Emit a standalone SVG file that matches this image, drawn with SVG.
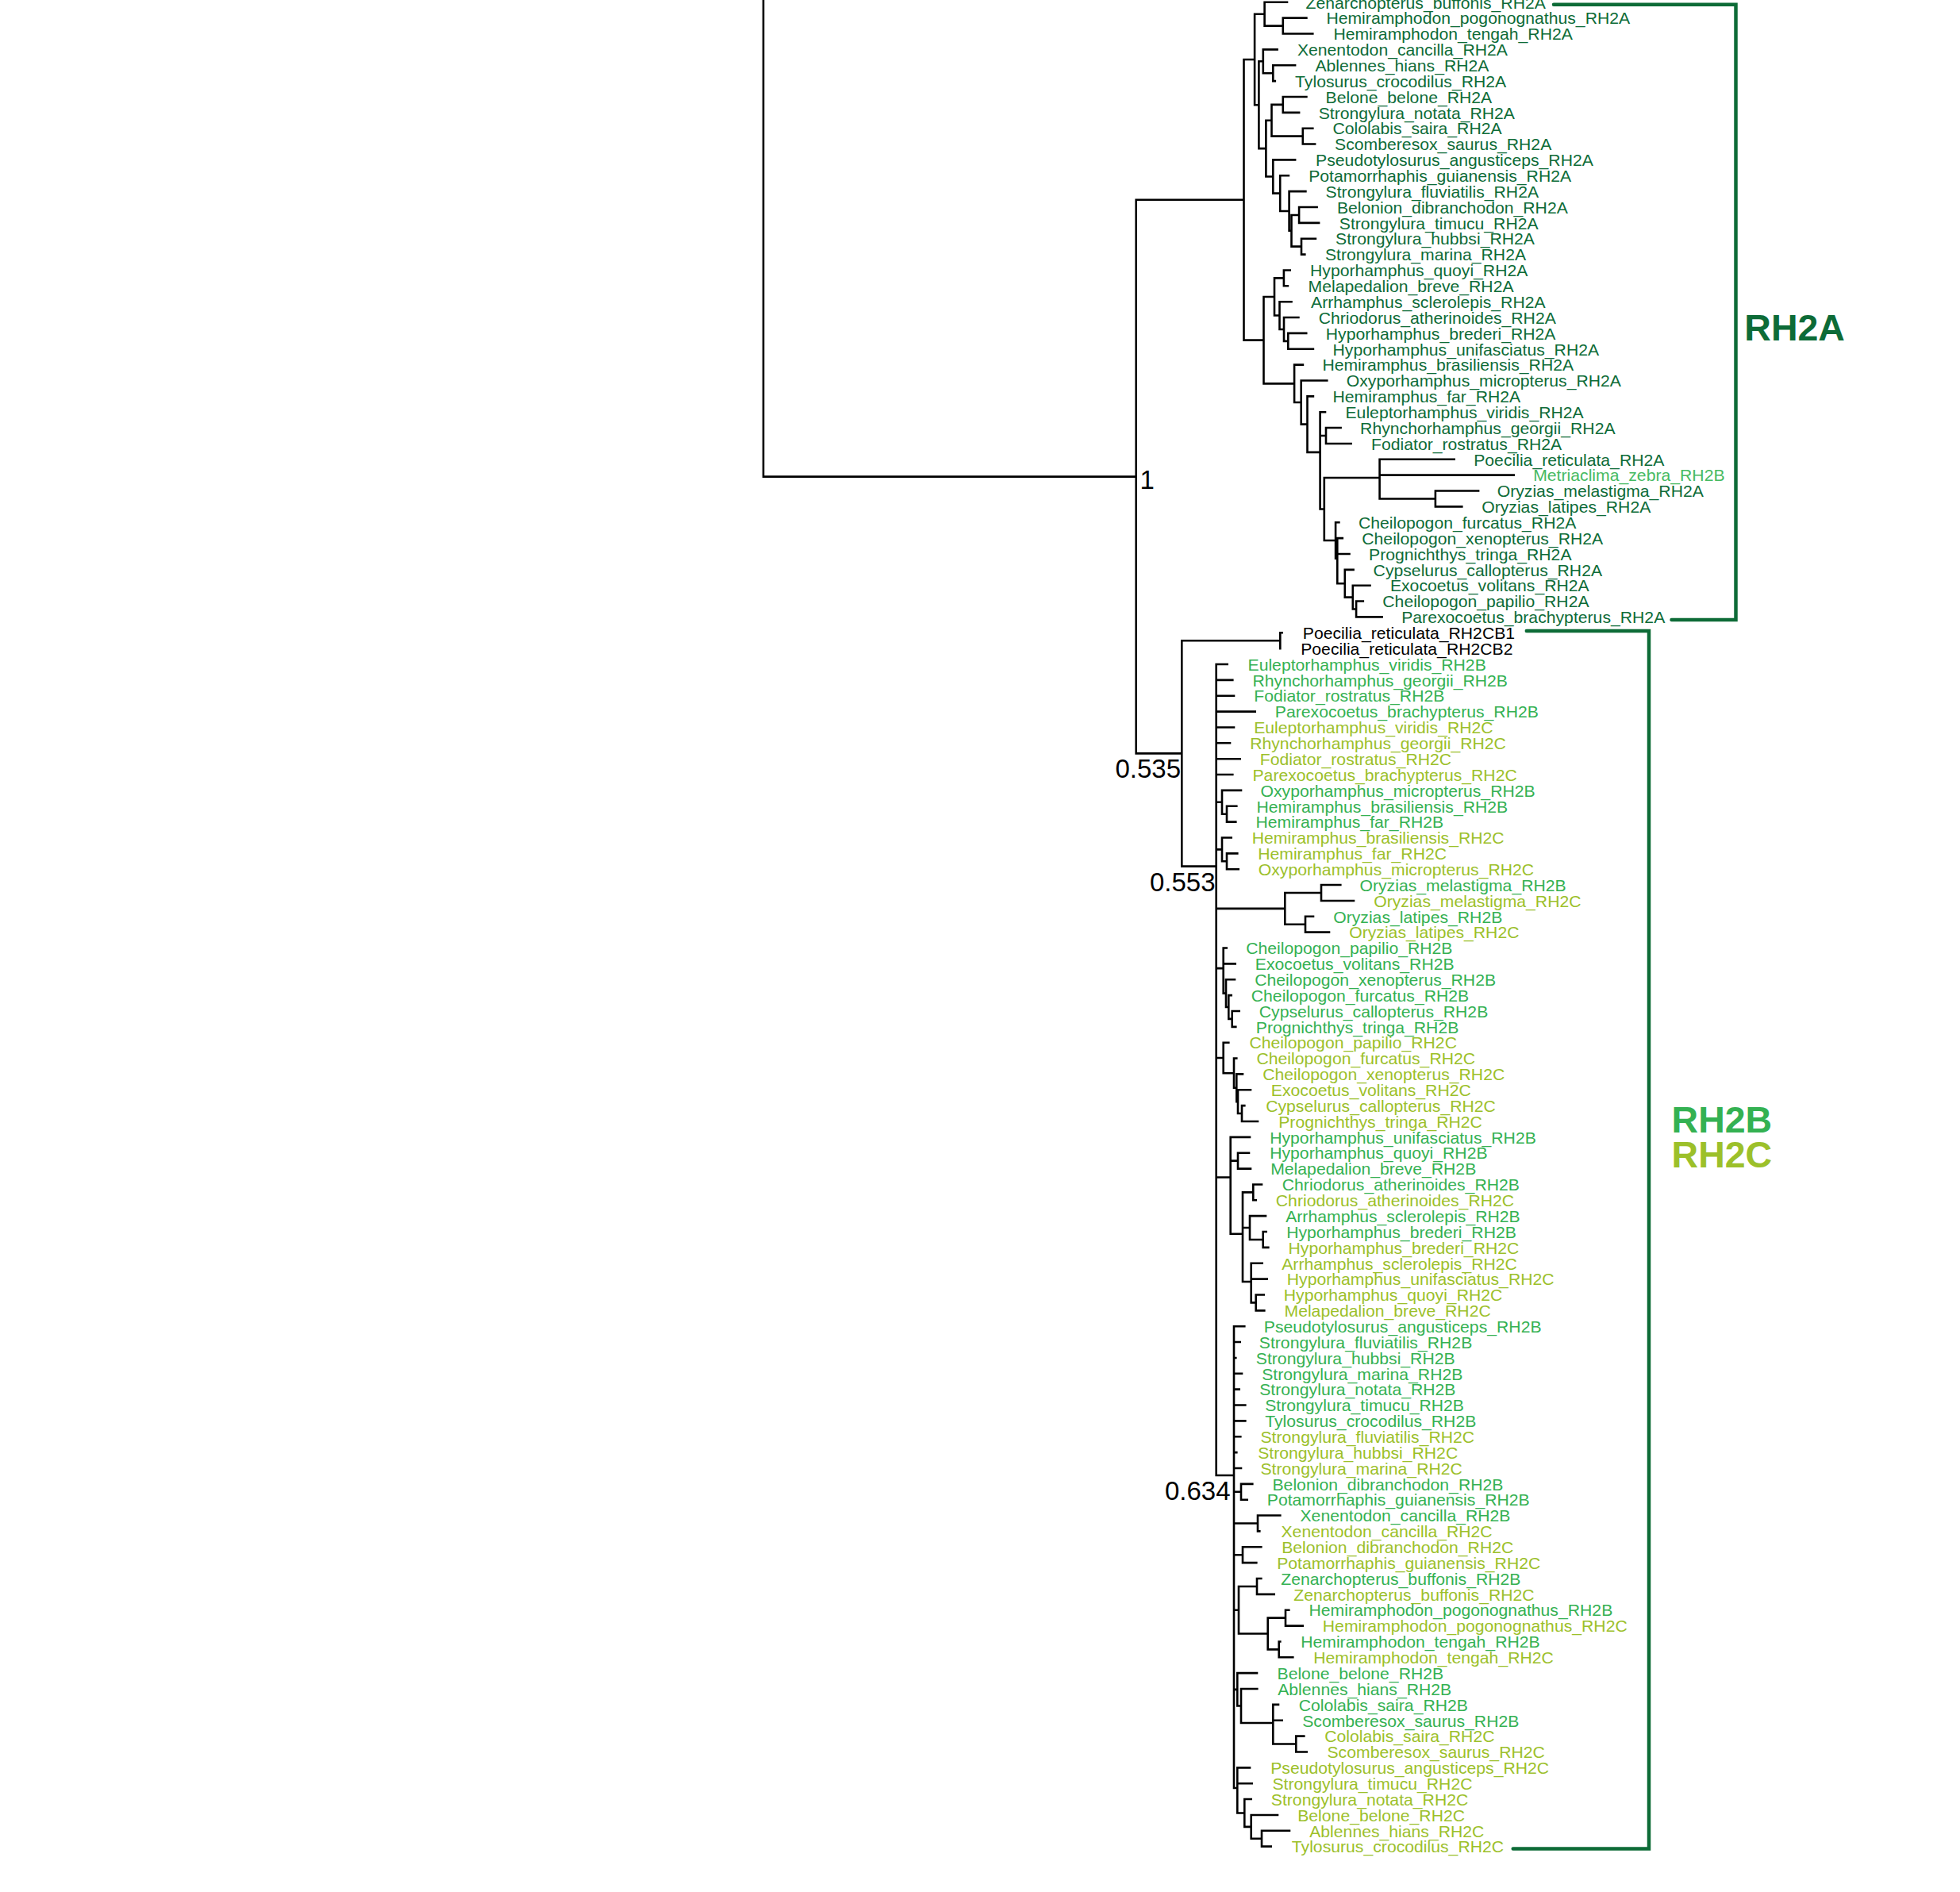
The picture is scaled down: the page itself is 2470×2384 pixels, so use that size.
<svg xmlns="http://www.w3.org/2000/svg" width="2470" height="2384" viewBox="0 0 2470 2384">
<style>
.t{font-family:"Liberation Sans",Arial,sans-serif;font-size:20px;transform-box:fill-box;transform-origin:0 0;transform:scaleX(1.06)}
.a{fill:#0D6B37}.b{fill:#34B152}.c{fill:#9CC02A}.m{fill:#46BA62}.k{fill:#000}
.tree{fill:none;stroke:#000;stroke-width:2.6;stroke-linecap:square}
.br{fill:none;stroke:#0D6B37;stroke-width:4.5;stroke-linecap:round}
.nl{font-family:"Liberation Sans",Arial,sans-serif;font-size:33px;fill:#000}
.big{font-family:"Liberation Sans",Arial,sans-serif;font-size:46.5px;font-weight:bold}
</style>
<rect width="2470" height="2384" fill="#fff"/>
<g id="connectors">
<path class="tree" d="M962 -5 V600.6 H1431.7
M1567.5 251.81 H1431.7 V949.4 H1489.3
M1581.1 74.96 H1567.5 V428.66 H1592.5
M1593.6 17.7 H1581.1 V132.22 H1586.4
M1622 2.8 H1593.6 V32.59 H1616.8
M1646.4 22.66 H1616.8 V42.52 H1654.3
M1591.8 77.29 H1586.4 V187.15 H1595.4
M1609.6 62.39 H1591.8 V92.18 H1604.3
M1632.1 82.25 H1604.3 V102.11 H1606.8
M1602.5 151.77 H1595.4 V222.52 H1604.3
M1616.8 131.9 H1602.5 V171.63 H1641.8
M1646.4 121.97 H1616.8 V141.83 H1637.1
M1654.3 161.7 H1641.8 V181.56 H1657.1
M1632.1 201.42 H1604.3 V243.63 H1613.2
M1623.9 221.28 H1613.2 V265.97 H1624.6
M1645.4 241.14 H1624.6 V290.8 H1627.5
M1637.1 270.94 H1627.5 V310.66 H1640
M1659.6 261.01 H1637.1 V280.87 H1662.1
M1657.9 300.73 H1640 V320.59 H1644.3
M1606 373.98 H1592.5 V483.35 H1631.1
M1617.9 350.39 H1606 V397.56 H1612.5
M1625.7 340.45 H1617.9 V360.32 H1622.9
M1627.5 380.18 H1612.5 V414.94 H1618
M1636.4 400.04 H1618 V429.83 H1623.3
M1646.2 419.9 H1623.3 V439.76 H1654.9
M1641.9 459.63 H1631.1 V507.06 H1639.7
M1672.3 479.49 H1639.7 V534.63 H1647.5
M1654.9 499.35 H1647.5 V569.9 H1663.6
M1670 519.21 H1663.6 V641.49 H1668.8 M1663.6 549.01 H1671
M1689.6 539.07 H1671 V558.94 H1702.6
M1738.6 601.97 H1668.8 V681 H1683.1
M1832.7 578.8 H1738.6 V628.45 H1808.9 M1738.6 598.66 H1907.7
M1863.1 618.52 H1808.9 V638.38 H1842.3
M1687.4 658.25 H1683.1 V703.76 H1685.3
M1691.8 678.11 H1685.3 V735.21 H1694.8 M1685.3 697.97 H1700.5
M1705.6 717.83 H1694.8 V752.59 H1704.8
M1726.5 737.69 H1704.8 V767.49 H1709.1
M1717.8 757.56 H1709.1 V777.42 H1741.6
M1613.3 807.21 H1489.3 V1091.58 H1532.7
M1615.7 797.28 H1613.3 V817.14
M1546.7 837 H1532.7 V1859 H1555
M1532.7 856.87 H1553.3 M1532.7 876.73 H1555 M1532.7 896.59 H1581.7 M1532.7 916.45 H1555
M1532.7 936.31 H1550 M1532.7 956.18 H1562.7 M1532.7 976.04 H1553.3
M1532.7 1010.8 H1540 M1532.7 1070.39 H1540 M1532.7 1144.87 H1619.3
M1532.7 1220.17 H1541.7 M1532.7 1332.93 H1541.7 M1532.7 1483.44 H1550.7
M1564 995.9 H1540 V1025.69 H1546
M1558.3 1015.76 H1546 V1035.62 H1557.3
M1551.7 1055.49 H1540 V1085.28 H1546
M1559.3 1075.35 H1546 V1095.21 H1560.7
M1665 1125 H1619.3 V1164.73 H1645
M1689.3 1115.07 H1665 V1134.93 H1706
M1655 1154.8 H1645 V1174.66 H1675
M1545.7 1194.52 H1541.7 V1251.62 H1545 M1541.7 1214.38 H1556.7
M1556 1234.24 H1545 V1269 H1548.3
M1551.7 1254.11 H1548.3 V1283.9 H1552.7
M1561.7 1273.97 H1552.7 V1293.83 H1557.3
M1548.3 1313.69 H1541.7 V1352.18 H1555
M1558.3 1333.55 H1555 V1370.8 H1558.3
M1566 1353.42 H1558.3 V1388.18 H1560
M1576 1373.28 H1560 V1403.07 H1565
M1568.3 1393.14 H1565 V1413 H1585
M1575 1432.86 H1550.7 V1554.79 H1566 M1550.7 1462.66 H1560
M1574 1452.73 H1560 V1472.59 H1576
M1579.3 1502.38 H1566 V1614.93 H1576.7 M1566 1547.07 H1575
M1590 1492.45 H1579.3 V1512.31 H1582.7
M1595 1532.17 H1575 V1561.97 H1591.7
M1595.7 1552.04 H1591.7 V1571.9 H1598.3
M1590.7 1591.76 H1576.7 V1641.42 H1582.7 M1576.7 1611.62 H1596.7
M1592.7 1631.48 H1582.7 V1651.35 H1593.3
M1568.3 1671.21 H1555 V2253 H1559.3
M1555 1691.07 H1562.7 M1555 1710.93 H1557.3 M1555 1730.79 H1565 M1555 1750.66 H1561.7
M1555 1770.52 H1569.3 M1555 1790.38 H1569.3 M1555 1810.24 H1563.3 M1555 1830.1 H1558.3
M1555 1849.97 H1564 M1555 1879.76 H1564 M1555 1919.48 H1585 M1555 1959.21 H1566
M1555 2028.73 H1561 M1555 2128.86 H1559.3
M1578.3 1869.83 H1564 V1889.69 H1571.7
M1613.3 1909.55 H1585 V1929.41 H1587.3
M1589.3 1949.28 H1566 V1969.14 H1583.3
M1584 1998.93 H1561 V2058.52 H1597.7
M1589.3 1989 H1584 V2008.86 H1605.7
M1620 2038.66 H1597.7 V2078.38 H1611.7
M1624.3 2028.72 H1620 V2048.59 H1641.7
M1613.3 2068.45 H1611.7 V2088.31 H1629.3
M1584 2108.17 H1559.3 V2149.55 H1564
M1584.3 2128.03 H1564 V2171.07 H1604.3
M1611 2147.9 H1604.3 V2197.55 H1633.3 M1604.3 2167.76 H1615.7
M1643.3 2187.62 H1633.3 V2207.48 H1646.7
M1575 2227.34 H1559.3 V2284.45 H1568.3 M1559.3 2247.21 H1577.7
M1576.7 2267.07 H1568.3 V2301.83 H1576.7
M1610 2286.93 H1576.7 V2316.72 H1590
M1625 2306.79 H1590 V2326.65 H1601.7"/>
<path id="bracket-RH2A" class="br" d="M1958 5.7 H2187.5 V781 H2106.5"/>
<path id="bracket-RH2BC" class="br" d="M1923.8 795 H2078 V2329.5 H1906.7"/>
</g>
<g id="support-labels">
<text class="nl" x="1436.5" y="616">1</text>
<text class="nl" x="1488" y="980" text-anchor="end">0.535</text>
<text class="nl" x="1531.5" y="1123" text-anchor="end">0.553</text>
<text class="nl" x="1550.5" y="1890" text-anchor="end">0.634</text>
</g>
<g id="clade-labels">
<text id="lbl-RH2A" class="big" x="2198.3" y="428.5" fill="#0D6B37">RH2A</text>
<text id="lbl-RH2B" class="big" x="2106.6" y="1426.5" fill="#34B152">RH2B</text>
<text id="lbl-RH2C" class="big" x="2106.6" y="1471" fill="#9CC02A">RH2C</text>
</g>
<g id="leaves">
<g id="leaf1"><text class="t a" x="1645.6" y="10.6">Zenarchopterus_buffonis_RH2A</text></g>
<g id="leaf2"><text class="t a" x="1671.4" y="30.5">Hemiramphodon_pogonognathus_RH2A</text></g>
<g id="leaf3"><text class="t a" x="1680.4" y="50.3">Hemiramphodon_tengah_RH2A</text></g>
<g id="leaf4"><text class="t a" x="1634.9" y="70.2">Xenentodon_cancilla_RH2A</text></g>
<g id="leaf5"><text class="t a" x="1657.4" y="90.1">Ablennes_hians_RH2A</text></g>
<g id="leaf6"><text class="t a" x="1632.1" y="109.9">Tylosurus_crocodilus_RH2A</text></g>
<g id="leaf7"><text class="t a" x="1670.6" y="129.8">Belone_belone_RH2A</text></g>
<g id="leaf8"><text class="t a" x="1661.7" y="149.6">Strongylura_notata_RH2A</text></g>
<g id="leaf9"><text class="t a" x="1679.5" y="169.5">Cololabis_saira_RH2A</text></g>
<g id="leaf10"><text class="t a" x="1682.1" y="189.4">Scomberesox_saurus_RH2A</text></g>
<g id="leaf11"><text class="t a" x="1658.1" y="209.2">Pseudotylosurus_angusticeps_RH2A</text></g>
<g id="leaf12"><text class="t a" x="1649.2" y="229.1">Potamorrhaphis_guianensis_RH2A</text></g>
<g id="leaf13"><text class="t a" x="1670.6" y="248.9">Strongylura_fluviatilis_RH2A</text></g>
<g id="leaf14"><text class="t a" x="1684.9" y="268.8">Belonion_dibranchodon_RH2A</text></g>
<g id="leaf15"><text class="t a" x="1687.8" y="288.7">Strongylura_timucu_RH2A</text></g>
<g id="leaf16"><text class="t a" x="1683.1" y="308.5">Strongylura_hubbsi_RH2A</text></g>
<g id="leaf17"><text class="t a" x="1669.9" y="328.4">Strongylura_marina_RH2A</text></g>
<g id="leaf18"><text class="t a" x="1651" y="348.3">Hyporhamphus_quoyi_RH2A</text></g>
<g id="leaf19"><text class="t a" x="1648.5" y="368.1">Melapedalion_breve_RH2A</text></g>
<g id="leaf20"><text class="t a" x="1652.1" y="388">Arrhamphus_sclerolepis_RH2A</text></g>
<g id="leaf21"><text class="t a" x="1661.7" y="407.8">Chriodorus_atherinoides_RH2A</text></g>
<g id="leaf22"><text class="t a" x="1670.8" y="427.7">Hyporhamphus_brederi_RH2A</text></g>
<g id="leaf23"><text class="t a" x="1679.5" y="447.6">Hyporhamphus_unifasciatus_RH2A</text></g>
<g id="leaf24"><text class="t a" x="1666.4" y="467.4">Hemiramphus_brasiliensis_RH2A</text></g>
<g id="leaf25"><text class="t a" x="1696.8" y="487.3">Oxyporhamphus_micropterus_RH2A</text></g>
<g id="leaf26"><text class="t a" x="1679.5" y="507.2">Hemiramphus_far_RH2A</text></g>
<g id="leaf27"><text class="t a" x="1695.5" y="527">Euleptorhamphus_viridis_RH2A</text></g>
<g id="leaf28"><text class="t a" x="1714.1" y="546.9">Rhynchorhamphus_georgii_RH2A</text></g>
<g id="leaf29"><text class="t a" x="1728" y="566.7">Fodiator_rostratus_RH2A</text></g>
<g id="leaf30"><text class="t a" x="1857.2" y="586.6">Poecilia_reticulata_RH2A</text></g>
<g id="leaf31"><text class="t m" x="1932.2" y="606.5">Metriaclima_zebra_RH2B</text></g>
<g id="leaf32"><text class="t a" x="1886.7" y="626.3">Oryzias_melastigma_RH2A</text></g>
<g id="leaf33"><text class="t a" x="1867.2" y="646.2">Oryzias_latipes_RH2A</text></g>
<g id="leaf34"><text class="t a" x="1712" y="666">Cheilopogon_furcatus_RH2A</text></g>
<g id="leaf35"><text class="t a" x="1716.3" y="685.9">Cheilopogon_xenopterus_RH2A</text></g>
<g id="leaf36"><text class="t a" x="1725" y="705.8">Prognichthys_tringa_RH2A</text></g>
<g id="leaf37"><text class="t a" x="1730.6" y="725.6">Cypselurus_callopterus_RH2A</text></g>
<g id="leaf38"><text class="t a" x="1751.9" y="745.5">Exocoetus_volitans_RH2A</text></g>
<g id="leaf39"><text class="t a" x="1742.3" y="765.4">Cheilopogon_papilio_RH2A</text></g>
<g id="leaf40"><text class="t a" x="1766.2" y="785.2">Parexocoetus_brachypterus_RH2A</text></g>
<g id="leaf41"><text class="t k" x="1641.8" y="805.1">Poecilia_reticulata_RH2CB1</text></g>
<g id="leaf42"><text class="t k" x="1639.2" y="824.9">Poecilia_reticulata_RH2CB2</text></g>
<g id="leaf43"><text class="t b" x="1572.5" y="844.8">Euleptorhamphus_viridis_RH2B</text></g>
<g id="leaf44"><text class="t b" x="1578.5" y="864.7">Rhynchorhamphus_georgii_RH2B</text></g>
<g id="leaf45"><text class="t b" x="1580.2" y="884.5">Fodiator_rostratus_RH2B</text></g>
<g id="leaf46"><text class="t b" x="1606.8" y="904.4">Parexocoetus_brachypterus_RH2B</text></g>
<g id="leaf47"><text class="t c" x="1580.2" y="924.3">Euleptorhamphus_viridis_RH2C</text></g>
<g id="leaf48"><text class="t c" x="1575.2" y="944.1">Rhynchorhamphus_georgii_RH2C</text></g>
<g id="leaf49"><text class="t c" x="1587.8" y="964">Fodiator_rostratus_RH2C</text></g>
<g id="leaf50"><text class="t c" x="1578.5" y="983.8">Parexocoetus_brachypterus_RH2C</text></g>
<g id="leaf51"><text class="t b" x="1588.5" y="1003.7">Oxyporhamphus_micropterus_RH2B</text></g>
<g id="leaf52"><text class="t b" x="1583.5" y="1023.6">Hemiramphus_brasiliensis_RH2B</text></g>
<g id="leaf53"><text class="t b" x="1582.5" y="1043.4">Hemiramphus_far_RH2B</text></g>
<g id="leaf54"><text class="t c" x="1577.8" y="1063.3">Hemiramphus_brasiliensis_RH2C</text></g>
<g id="leaf55"><text class="t c" x="1585.2" y="1083.2">Hemiramphus_far_RH2C</text></g>
<g id="leaf56"><text class="t c" x="1585.8" y="1103">Oxyporhamphus_micropterus_RH2C</text></g>
<g id="leaf57"><text class="t b" x="1713.5" y="1122.9">Oryzias_melastigma_RH2B</text></g>
<g id="leaf58"><text class="t c" x="1731.2" y="1142.7">Oryzias_melastigma_RH2C</text></g>
<g id="leaf59"><text class="t b" x="1680.2" y="1162.6">Oryzias_latipes_RH2B</text></g>
<g id="leaf60"><text class="t c" x="1700.2" y="1182.5">Oryzias_latipes_RH2C</text></g>
<g id="leaf61"><text class="t b" x="1570.2" y="1202.3">Cheilopogon_papilio_RH2B</text></g>
<g id="leaf62"><text class="t b" x="1581.8" y="1222.2">Exocoetus_volitans_RH2B</text></g>
<g id="leaf63"><text class="t b" x="1581.2" y="1242">Cheilopogon_xenopterus_RH2B</text></g>
<g id="leaf64"><text class="t b" x="1576.8" y="1261.9">Cheilopogon_furcatus_RH2B</text></g>
<g id="leaf65"><text class="t b" x="1586.8" y="1281.8">Cypselurus_callopterus_RH2B</text></g>
<g id="leaf66"><text class="t b" x="1582.8" y="1301.6">Prognichthys_tringa_RH2B</text></g>
<g id="leaf67"><text class="t c" x="1574.5" y="1321.5">Cheilopogon_papilio_RH2C</text></g>
<g id="leaf68"><text class="t c" x="1583.5" y="1341.4">Cheilopogon_furcatus_RH2C</text></g>
<g id="leaf69"><text class="t c" x="1591.2" y="1361.2">Cheilopogon_xenopterus_RH2C</text></g>
<g id="leaf70"><text class="t c" x="1601.8" y="1381.1">Exocoetus_volitans_RH2C</text></g>
<g id="leaf71"><text class="t c" x="1595.2" y="1400.9">Cypselurus_callopterus_RH2C</text></g>
<g id="leaf72"><text class="t c" x="1611.2" y="1420.8">Prognichthys_tringa_RH2C</text></g>
<g id="leaf73"><text class="t b" x="1600.2" y="1440.7">Hyporhamphus_unifasciatus_RH2B</text></g>
<g id="leaf74"><text class="t b" x="1600.2" y="1460.5">Hyporhamphus_quoyi_RH2B</text></g>
<g id="leaf75"><text class="t b" x="1601.2" y="1480.4">Melapedalion_breve_RH2B</text></g>
<g id="leaf76"><text class="t b" x="1615.8" y="1500.3">Chriodorus_atherinoides_RH2B</text></g>
<g id="leaf77"><text class="t c" x="1607.8" y="1520.1">Chriodorus_atherinoides_RH2C</text></g>
<g id="leaf78"><text class="t b" x="1620.2" y="1540">Arrhamphus_sclerolepis_RH2B</text></g>
<g id="leaf79"><text class="t b" x="1621.2" y="1559.8">Hyporhamphus_brederi_RH2B</text></g>
<g id="leaf80"><text class="t c" x="1623.5" y="1579.7">Hyporhamphus_brederi_RH2C</text></g>
<g id="leaf81"><text class="t c" x="1615.2" y="1599.6">Arrhamphus_sclerolepis_RH2C</text></g>
<g id="leaf82"><text class="t c" x="1621.8" y="1619.4">Hyporhamphus_unifasciatus_RH2C</text></g>
<g id="leaf83"><text class="t c" x="1617.8" y="1639.3">Hyporhamphus_quoyi_RH2C</text></g>
<g id="leaf84"><text class="t c" x="1618.5" y="1659.2">Melapedalion_breve_RH2C</text></g>
<g id="leaf85"><text class="t b" x="1592.8" y="1679">Pseudotylosurus_angusticeps_RH2B</text></g>
<g id="leaf86"><text class="t b" x="1586.8" y="1698.9">Strongylura_fluviatilis_RH2B</text></g>
<g id="leaf87"><text class="t b" x="1582.8" y="1718.7">Strongylura_hubbsi_RH2B</text></g>
<g id="leaf88"><text class="t b" x="1590.2" y="1738.6">Strongylura_marina_RH2B</text></g>
<g id="leaf89"><text class="t b" x="1587.2" y="1758.5">Strongylura_notata_RH2B</text></g>
<g id="leaf90"><text class="t b" x="1594.2" y="1778.3">Strongylura_timucu_RH2B</text></g>
<g id="leaf91"><text class="t b" x="1594.2" y="1798.2">Tylosurus_crocodilus_RH2B</text></g>
<g id="leaf92"><text class="t c" x="1588.5" y="1818">Strongylura_fluviatilis_RH2C</text></g>
<g id="leaf93"><text class="t c" x="1585.2" y="1837.9">Strongylura_hubbsi_RH2C</text></g>
<g id="leaf94"><text class="t c" x="1588.5" y="1857.8">Strongylura_marina_RH2C</text></g>
<g id="leaf95"><text class="t b" x="1603.5" y="1877.6">Belonion_dibranchodon_RH2B</text></g>
<g id="leaf96"><text class="t b" x="1596.8" y="1897.5">Potamorrhaphis_guianensis_RH2B</text></g>
<g id="leaf97"><text class="t b" x="1638.5" y="1917.4">Xenentodon_cancilla_RH2B</text></g>
<g id="leaf98"><text class="t c" x="1614.5" y="1937.2">Xenentodon_cancilla_RH2C</text></g>
<g id="leaf99"><text class="t c" x="1615.2" y="1957.1">Belonion_dibranchodon_RH2C</text></g>
<g id="leaf100"><text class="t c" x="1609.2" y="1976.9">Potamorrhaphis_guianensis_RH2C</text></g>
<g id="leaf101"><text class="t b" x="1614.2" y="1996.8">Zenarchopterus_buffonis_RH2B</text></g>
<g id="leaf102"><text class="t c" x="1630.2" y="2016.7">Zenarchopterus_buffonis_RH2C</text></g>
<g id="leaf103"><text class="t b" x="1649.5" y="2036.5">Hemiramphodon_pogonognathus_RH2B</text></g>
<g id="leaf104"><text class="t c" x="1666.8" y="2056.4">Hemiramphodon_pogonognathus_RH2C</text></g>
<g id="leaf105"><text class="t b" x="1639.2" y="2076.3">Hemiramphodon_tengah_RH2B</text></g>
<g id="leaf106"><text class="t c" x="1655.2" y="2096.1">Hemiramphodon_tengah_RH2C</text></g>
<g id="leaf107"><text class="t b" x="1609.5" y="2116">Belone_belone_RH2B</text></g>
<g id="leaf108"><text class="t b" x="1610.2" y="2135.8">Ablennes_hians_RH2B</text></g>
<g id="leaf109"><text class="t b" x="1636.8" y="2155.7">Cololabis_saira_RH2B</text></g>
<g id="leaf110"><text class="t b" x="1641.2" y="2175.6">Scomberesox_saurus_RH2B</text></g>
<g id="leaf111"><text class="t c" x="1669.2" y="2195.4">Cololabis_saira_RH2C</text></g>
<g id="leaf112"><text class="t c" x="1672.5" y="2215.3">Scomberesox_saurus_RH2C</text></g>
<g id="leaf113"><text class="t c" x="1601.2" y="2235.1">Pseudotylosurus_angusticeps_RH2C</text></g>
<g id="leaf114"><text class="t c" x="1603.5" y="2255">Strongylura_timucu_RH2C</text></g>
<g id="leaf115"><text class="t c" x="1601.8" y="2274.9">Strongylura_notata_RH2C</text></g>
<g id="leaf116"><text class="t c" x="1635.2" y="2294.7">Belone_belone_RH2C</text></g>
<g id="leaf117"><text class="t c" x="1650.2" y="2314.6">Ablennes_hians_RH2C</text></g>
<g id="leaf118"><text class="t c" x="1627.8" y="2334.5">Tylosurus_crocodilus_RH2C</text></g>
</g>
</svg>
